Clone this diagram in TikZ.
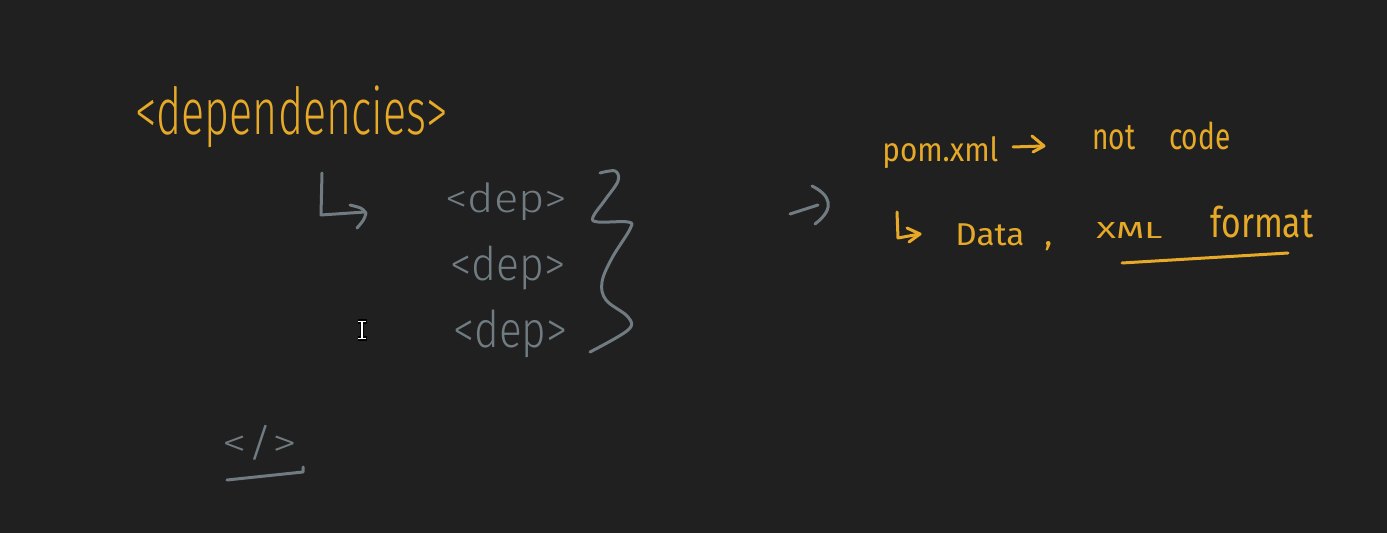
\documentclass[tikz,border=0pt]{standalone}
\usepackage{fontspec}
\usepackage{graphicx}
\setmainfont{Fira Sans}[UprightFont=* Light]
\newfontfamily\hwreg{Fira Sans}
\definecolor{bg}{RGB}{32,32,32}
\definecolor{ink}{RGB}{230,170,40}
\definecolor{slate}{RGB}{112,124,130}
\newcommand\hwbox[3]{\resizebox*{\dimexpr#1pt/2\relax}{\dimexpr#2pt/2\relax}{#3}}
\begin{document}
\begin{tikzpicture}[x=0.5pt,y=-0.5pt,
  txt/.style={inner sep=0pt,anchor=north west},
  yel/.style={txt,text=ink},
  gry/.style={txt,text=slate},
  pen/.style={line width=1.5pt,line cap=round,line join=round}]
\fill[bg] (0,0) rectangle (1387,533);
\useasboundingbox (0,0) rectangle (1387,533);
% left column
\node[yel] (deps) at (135,85) {\hwbox{312}{62}{<dependencies>}};
\draw[pen,slate] (322,173) -- (321,215) -- (365,212);
\draw[pen,slate] (350,205) .. controls (362,208) .. (366,213) .. controls (364,220) .. (357,228);
\node[gry] (dep1) at (445,182) {\hwbox{122}{38}{<dep>}};
\node[gry] (dep2) at (450,246) {\hwbox{115}{44}{<dep>}};
\node[gry] (dep3) at (453,309) {\hwbox{114}{48}{<dep>}};
\draw[pen,slate] plot[smooth,tension=0.6] coordinates {(600,173) (615,171) (618,181) (605,200) (593,217) (598,222) (628,222) (630,229) (612,258) (602,282) (606,300) (628,317) (628,330) (590,352)};
\node[gry] (close) at (222,425) {\hwbox{75}{35}{</>}};
\draw[pen,slate] (227,480) -- (303,472) -- (303,467);
% cursor
\draw[line width=2.2pt,black] (357.5,321.5) -- (366.5,321.5) (362,321.5) -- (362,338.5) (357.5,338.5) -- (366.5,338.5);
\draw[line width=0.8pt,white] (358,321.5) -- (366,321.5) (362,321.5) -- (362,338.5) (358,338.5) -- (366,338.5);
% middle arrow
\draw[pen,slate] (790,214) -- (818,205);
\draw[pen,slate] (812,186) .. controls (830,195) and (836,208) .. (815,224);
% right column
\node[yel] (pom) at (882,136) {\hwbox{116}{32}{\hwreg pom.xml}};
\draw[pen,ink] (1013,147) -- (1043,146);
\draw[pen,ink] (1032,136) -- (1044,146) -- (1033,152);
\node[yel] (notcode) at (1092,122) {\hwbox{138}{28}{\hwreg not\hspace{1.2em}code}};
\draw[pen,ink] (897,212) -- (898,238) .. controls (908,236) .. (920,234);
\draw[pen,ink] (907,228) -- (920,234) -- (909,242);
\node[yel] (data) at (955,223) {\hwbox{97}{27}{\hwreg Data\hspace{0.6em},}};
\node[yel] (xml) at (1096,222) {\hwbox{66}{16}{\hwreg XML}};
\node[yel] (format) at (1210,206) {\hwbox{103}{32}{\hwreg format}};
\draw[pen,ink] (1122,263) -- (1288,253);
\end{tikzpicture}
\end{document}
